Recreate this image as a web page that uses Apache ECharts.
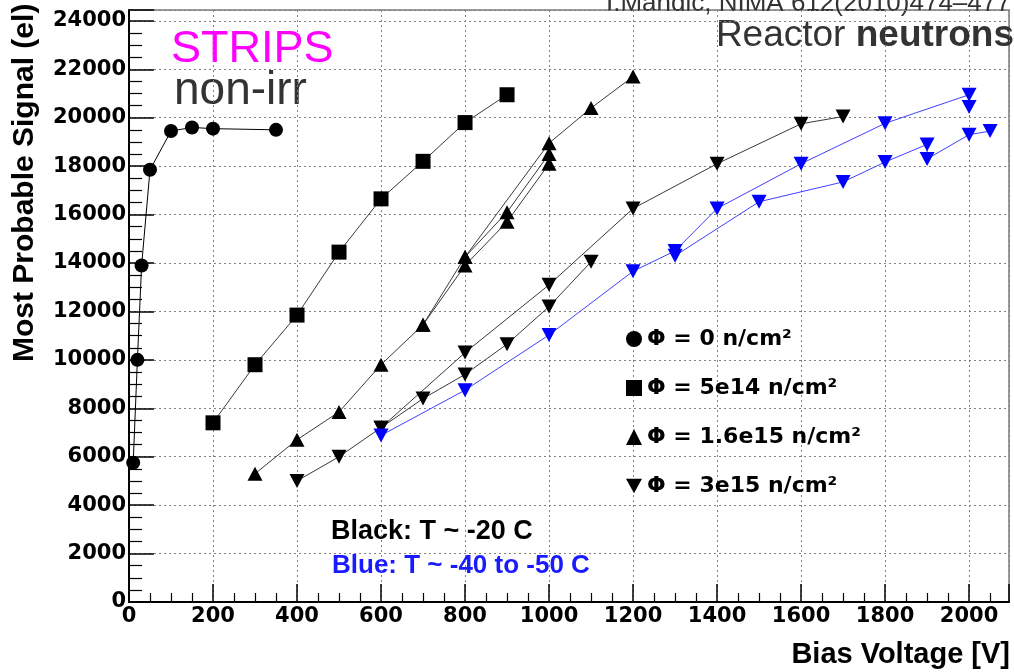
<!DOCTYPE html>
<html>
<head>
<meta charset="utf-8">
<script src="https://cdn.jsdelivr.net/npm/echarts@6/dist/echarts.min.js"></script>
<style>
  html, body { margin: 0; padding: 0; background: #fff; }
  #chart { width: 1014px; height: 672px; }
</style>
</head>
<body>
<div id="chart"></div>
<script>
// Bias voltage scan of the most probable signal, strip detectors, reactor neutrons.
// Each array holds [bias voltage (V), most probable signal (el)].

// Φ = 0 (non-irradiated)
const phi0 = [[10, 5750], [20, 10000], [30, 13900], [50, 17850], [100, 19450], [150, 19600], [200, 19550], [350, 19500]];

// Φ = 5e14 n/cm²
const phi5e14 = [[200, 7400], [300, 9800], [400, 11850], [500, 14450], [600, 16650], [700, 18200], [800, 19800], [900, 20950]];

// Φ = 1.6e15 n/cm², three scans
const phi16e15a = [[300, 5300], [400, 6700], [500, 7850], [600, 9800], [700, 11450], [800, 13900], [900, 15700], [1000, 18100]];
const phi16e15b = [[700, 11450], [800, 14250], [900, 16100], [1000, 18500]];
const phi16e15c = [[800, 14250], [1000, 18950], [1100, 20400], [1200, 21700]];

// Φ = 3e15 n/cm², T ~ -20 C
const phi3e15warmA = [[400, 5000], [500, 6000], [600, 7200], [800, 10300], [1000, 13100], [1200, 16250], [1400, 18100], [1600, 19750], [1700, 20050]];
const phi3e15warmB = [[600, 7200], [700, 8400], [800, 9400], [900, 10650], [1000, 12200], [1100, 14050]];

// Φ = 3e15 n/cm², T ~ -40 to -50 C
const phi3e15coldA = [[600, 6880], [800, 8750], [1000, 11030], [1200, 13660], [1300, 14500], [1400, 16250], [1600, 18100], [1800, 19770], [2000, 20950], [2000, 20440]];
const phi3e15coldB = [[1300, 14300], [1500, 16530], [1700, 17350], [1800, 18170], [1900, 18900], [1900, 18300], [2000, 19300], [2050, 19450]];

// Legend entries
const fluenceLabels = ['Φ = 0 n/cm²', 'Φ = 5e14 n/cm²', 'Φ = 1.6e15 n/cm²', 'Φ = 3e15 n/cm²'];

// Axis ranges: [min, max, major step]
const voltageRange = [0, 2095, 200];
const signalRange = [0, 24450, 2000];

const BLACK = '#000000';
const BLACK_LINE = '#3a3a3a';
const BLUE = '#0000ff';
const BLUE_LINE = '#4040ff';
const TRI_DOWN = 'path://M0,0L10,0L5,9Z';

function scan(name, data, symbol, size, color, lineColor, rotate) {
  return {
    name: name,
    type: 'line',
    data: data,
    symbol: symbol,
    symbolSize: size,
    symbolRotate: rotate || 0,
    showAllSymbol: true,
    lineStyle: { color: lineColor, width: 1 },
    itemStyle: { color: color },
    emphasis: { disabled: true },
    silent: true,
    z: 3
  };
}

const series = [
  scan(fluenceLabels[0], phi0, 'circle', 14, BLACK, BLACK, 0),
  scan(fluenceLabels[1], phi5e14, 'rect', 15, BLACK, BLACK_LINE, 0),
  scan(fluenceLabels[2], phi16e15a, 'triangle', [15, 14], BLACK, BLACK_LINE, 0),
  scan(fluenceLabels[2], phi16e15b, 'triangle', [15, 14], BLACK, BLACK_LINE, 0),
  scan(fluenceLabels[2], phi16e15c, 'triangle', [15, 14], BLACK, BLACK_LINE, 0),
  scan(fluenceLabels[3], phi3e15warmA, 'triangle', [15, 14], BLACK, BLACK_LINE, 180),
  scan(fluenceLabels[3], phi3e15warmB, 'triangle', [15, 14], BLACK, BLACK_LINE, 180),
  scan(fluenceLabels[3], phi3e15coldA, 'triangle', [15, 14], BLUE, BLUE_LINE, 180),
  scan(fluenceLabels[3], phi3e15coldB, 'triangle', [15, 14], BLUE, BLUE_LINE, 180)
];

const tickFont = { fontFamily: 'DejaVu Sans', fontWeight: 'bold', fontSize: 21, color: '#000' };
const plainNumber = function (v) { return String(Math.round(v)); };
const gridLine = { show: true, lineStyle: { color: '#808080', width: 1, type: [2, 3] } };

const chart = echarts.init(document.getElementById('chart'), null, { renderer: 'canvas' });
chart.setOption({
  animation: false,
  backgroundColor: '#ffffff',
  grid: {
    left: 129, right: 5, top: 10, bottom: 70,
    show: true, borderColor: '#7a7a7a', borderWidth: 1.5, backgroundColor: 'transparent'
  },
  xAxis: {
    type: 'value',
    min: voltageRange[0], max: voltageRange[1], interval: voltageRange[2],
    axisLine: { show: true, onZero: false, lineStyle: { color: '#000', width: 2 } },
    axisTick: { show: true, inside: true, length: 18, lineStyle: { color: '#000', width: 1.5 } },
    minorTick: { show: true, splitNumber: 4, length: 9, lineStyle: { color: '#000', width: 1.2 } },
    axisLabel: Object.assign({ margin: 4, showMaxLabel: false, formatter: plainNumber }, tickFont),
    splitLine: gridLine
  },
  yAxis: {
    type: 'value',
    min: signalRange[0], max: signalRange[1], interval: signalRange[2],
    axisLine: { show: true, onZero: false, lineStyle: { color: '#000', width: 2 } },
    axisTick: { show: true, inside: true, length: 25, lineStyle: { color: '#000', width: 1.5 } },
    minorTick: { show: true, splitNumber: 4, length: 13, lineStyle: { color: '#000', width: 1.2 } },
    axisLabel: Object.assign({ margin: 3, showMaxLabel: false, formatter: plainNumber }, tickFont),
    splitLine: gridLine
  },
  legend: {
    orient: 'vertical',
    left: 626,
    top: 328,
    padding: 0,
    itemWidth: 16,
    itemHeight: 16,
    itemGap: 27,
    selectedMode: false,
    textStyle: { fontFamily: 'DejaVu Sans', fontWeight: 'bold', fontSize: 22, color: '#000', lineHeight: 16 },
    data: [
      { name: fluenceLabels[0], icon: 'circle' },
      { name: fluenceLabels[1], icon: 'rect' },
      { name: fluenceLabels[2], icon: 'triangle' },
      { name: fluenceLabels[3], icon: TRI_DOWN }
    ]
  },
  graphic: [
    {
      type: 'text', x: 606, y: 4, silent: true,
      style: { text: 'I.Mandic, NIMA 612(2010)474–477', fontFamily: 'Liberation Sans', fontSize: 26,
               fill: '#333333', align: 'left', verticalAlign: 'middle' }
    },
    {
      type: 'text', x: 1014, y: 36, silent: true,
      style: {
        text: '{n|Reactor }{b|neutrons}', align: 'right', verticalAlign: 'middle',
        rich: {
          n: { fontFamily: 'Liberation Sans', fontSize: 37, fill: '#333333' },
          b: { fontFamily: 'Liberation Sans', fontWeight: 'bold', fontSize: 37, fill: '#333333' }
        }
      }
    },
    {
      type: 'text', x: 171, y: 50, silent: true,
      style: { text: 'STRIPS', fontFamily: 'Liberation Sans', fontSize: 45, fill: '#ff00ff',
               align: 'left', verticalAlign: 'middle' }
    },
    {
      type: 'text', x: 174, y: 91, silent: true,
      style: { text: 'non-irr', fontFamily: 'Liberation Sans', fontSize: 46, fill: '#333333',
               align: 'left', verticalAlign: 'middle' }
    },
    {
      type: 'text', x: 331, y: 531.5, silent: true,
      style: { text: 'Black: T ~ -20 C', fontFamily: 'Liberation Sans', fontWeight: 'bold', fontSize: 27,
               fill: '#000000', align: 'left', verticalAlign: 'middle' }
    },
    {
      type: 'text', x: 332, y: 566, silent: true,
      style: { text: 'Blue: T ~ -40 to -50 C', fontFamily: 'Liberation Sans', fontWeight: 'bold', fontSize: 26,
               fill: '#1a1aff', align: 'left', verticalAlign: 'middle' }
    },
    {
      type: 'text', x: 1010, y: 655, silent: true,
      style: { text: 'Bias Voltage [V]', fontFamily: 'Liberation Sans', fontWeight: 'bold', fontSize: 29,
               fill: '#000000', align: 'right', verticalAlign: 'middle' }
    },
    {
      type: 'text', x: 25, y: 362, rotation: Math.PI / 2, silent: true,
      style: { text: 'Most Probable Signal (el)', fontFamily: 'Liberation Sans', fontWeight: 'bold', fontSize: 30,
               fill: '#000000', align: 'left', verticalAlign: 'middle' }
    }
  ],
  series: series
});
</script>
</body>
</html>
